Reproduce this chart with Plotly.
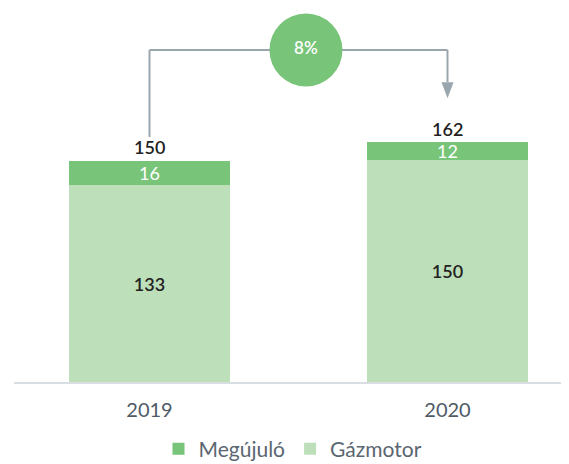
import plotly.graph_objects as go

# ---- data ----
years = ["2019", "2020"]
gazmotor = [133, 150]
megujulo = [16, 12]
totals = [150, 162]

# ---- style ----
GREEN = "#78C479"
LIGHT = "#BDDFB9"
LINE_GRAY = "#9AA6AE"
FONT = "Lato"

OFF = 8  # default page body margin
W, H = 569 - OFF, 464 - OFF
ML, MR, MT, MB = 14 - OFF, 0, 10 - OFF, 82
plot_w = W - ML - MR
plot_h = H - MT - MB
PX_Y = 1.48          # pixels per value unit
PX_X = 298           # pixels per category step
first_center_px = 149.5 - 14
xr = [-first_center_px / PX_X, (plot_w - first_center_px) / PX_X]
yr = [0, plot_h / PX_Y]

def py(px):
    return px / PX_Y

def pxx(px):
    return px / PX_X

x = list(range(len(years)))

fig = go.Figure()
fig.add_bar(
    x=x, y=gazmotor, name="Gázmotor", marker_color=LIGHT, marker_line_width=0,
    width=0.54, text=gazmotor, textposition="inside", insidetextanchor="middle",
    textangle=0, constraintext="none",
    textfont=dict(color="#222222", size=18, family=FONT, weight=600),
    hoverinfo="skip", cliponaxis=False,
)
fig.add_bar(
    x=x, y=megujulo, name="Megújuló", marker_color=GREEN, marker_line_width=0,
    width=0.54, text=megujulo, textposition="inside", insidetextanchor="middle",
    textangle=0, constraintext="none",
    textfont=dict(color="white", size=18, family=FONT),
    hoverinfo="skip", cliponaxis=False,
)

# total labels
for i, t in enumerate(totals):
    fig.add_annotation(
        x=x[i], y=t, text=str(t), showarrow=False, yanchor="bottom", yshift=0,
        font=dict(size=18, color="#222222", family=FONT, weight=600),
    )

# bracket with growth
bracket_y = py(332)
left_bottom = totals[0] + py(23)
tip_y = totals[1] + py(44)
head_h = py(16)
lw = dict(color=LINE_GRAY, width=2)
fig.add_shape(type="line", x0=x[0], x1=x[0], y0=left_bottom, y1=bracket_y, line=lw, layer="below")
fig.add_shape(type="line", x0=x[0], x1=x[1], y0=bracket_y, y1=bracket_y, line=lw, layer="below")
fig.add_shape(type="line", x0=x[1], x1=x[1], y0=bracket_y, y1=tip_y + head_h, line=lw, layer="below")
fig.add_shape(
    type="path",
    path=f"M {x[1]-pxx(6)},{tip_y+head_h} L {x[1]+pxx(6)},{tip_y+head_h} L {x[1]},{tip_y} Z",
    fillcolor=LINE_GRAY, line=dict(width=0), layer="below",
)

growth = round((totals[1] - totals[0]) / totals[0] * 100)
fig.add_trace(go.Scatter(
    x=[0.525], y=[bracket_y], mode="markers+text",
    marker=dict(size=73, color=GREEN, line=dict(width=0)),
    text=[f"{growth}%"], textposition="middle center",
    textfont=dict(color="white", size=17, family=FONT, weight=600),
    showlegend=False, hoverinfo="skip", cliponaxis=False,
))

fig.update_layout(
    width=W, height=H,
    margin=dict(l=ML, r=MR, t=MT, b=MB, autoexpand=False),
    barmode="stack",
    plot_bgcolor="white", paper_bgcolor="white",
    font=dict(family=FONT),
    uniformtext=dict(minsize=17, mode="show"),
    showlegend=True,
    legend=dict(
        orientation="h", x=(293 - 14) / plot_w, xanchor="center",
        y=-(449 - 382) / plot_h, yanchor="middle", traceorder="reversed",
        font=dict(size=21, color="#5B6670", family=FONT),
    ),
    xaxis=dict(
        range=xr, tickvals=x, ticktext=years, showgrid=False, zeroline=False,
        showline=True, linecolor="#D9DEE3", linewidth=2, automargin=False,
        tickfont=dict(size=20, color="#4F5B66", family=FONT),
        ticks="", ticklabelstandoff=9, fixedrange=True,
    ),
    yaxis=dict(range=yr, visible=False, fixedrange=True, automargin=False),
)

fig.write_html("out.html")
